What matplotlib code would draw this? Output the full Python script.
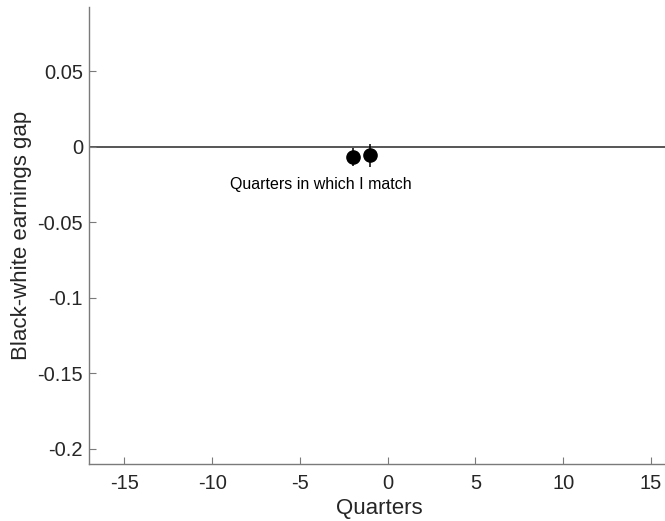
import matplotlib
matplotlib.use("Agg")
import matplotlib.pyplot as plt

# event-time estimates (quarters relative to match)
quarters = [-2, -1]
gap = [-0.0068, -0.0058]
gap_err = [0.006, 0.0077]

xticks = [-15, -10, -5, 0, 5, 10, 15]
yticks = [-0.2, -0.15, -0.1, -0.05, 0, 0.05]
yticklabels = ["-0.2", "-0.15", "-0.1", "-0.05", "0", "0.05"]

plt.rcParams['font.family'] = ['Liberation Sans', 'DejaVu Sans']

axcol = '#262626'
fig = plt.figure(figsize=(6.65, 5.21), dpi=100)
ax = fig.add_axes([0.1343, 0.1094, 0.871, 0.8775])

ax.axhline(0, color='#555555', lw=1.4, zorder=1)
ax.errorbar(quarters, gap, yerr=gap_err, fmt='o', color='black',
            ms=9.5, elinewidth=1.1, capsize=0, zorder=3)
ax.text(-9, -0.025, 'Quarters in which I match', fontsize=11.5,
        ha='left', va='center', color='black')

ax.set_xlim(-17, 16)
ax.set_ylim(-0.21, 0.0925)
ax.set_xticks(xticks)
ax.set_xticklabels([str(t) for t in xticks])
ax.set_yticks(yticks)
ax.set_yticklabels(yticklabels)

for s in ['top', 'right']:
    ax.spines[s].set_visible(False)
for s in ['left', 'bottom']:
    ax.spines[s].set_color('#7a7a7a')
    ax.spines[s].set_linewidth(1.0)
ax.tick_params(direction='in', length=5, width=0.8, color='#7a7a7a',
               labelsize=14.5, labelcolor=axcol)
ax.tick_params(axis='x', pad=7)
ax.tick_params(axis='y', pad=4.5)

ax.set_xlabel('Quarters', fontsize=16, color=axcol, labelpad=4)
ax.set_ylabel('Black-white earnings gap', fontsize=16, color=axcol, labelpad=4)

fig.savefig('out.png', dpi=100)
